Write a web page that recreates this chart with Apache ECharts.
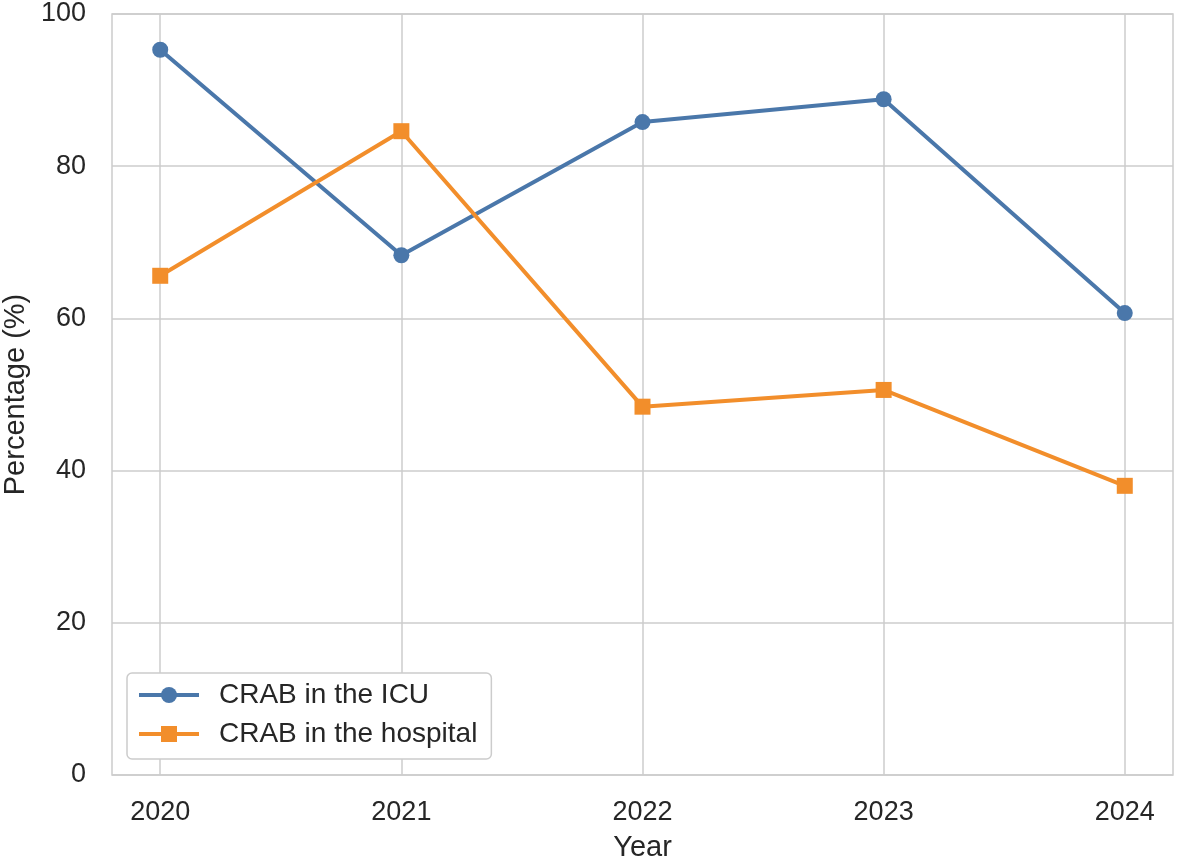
<!DOCTYPE html>
<html><head><meta charset="utf-8">
<script src="https://cdn.jsdelivr.net/npm/echarts@6/dist/echarts.min.js"></script>
<style>html,body{margin:0;padding:0;background:#fff}#c{width:1181px;height:860px}</style>
</head><body><div id="c"></div>
<script>
const years = [2020, 2021, 2022, 2023, 2024];
const icu = [95.3, 68.3, 85.8, 88.8, 60.7];
const hospital = [65.6, 84.6, 48.4, 50.6, 38.0];
const yTicks = [0, 20, 40, 60, 80, 100];

const chart = echarts.init(document.getElementById('c'));
const font = 'Arial, "Liberation Sans", sans-serif';
chart.setOption({
  animation: false,
  grid: {left: 112, right: 8, top: 14, bottom: 85, show: true, borderColor: '#cccccc', borderWidth: 1.5,
         containLabel: false, outerBoundsMode: 'none'},
  xAxis: {
    type: 'value', min: 2019.8, max: 2024.2,
    name: 'Year', nameLocation: 'middle', nameGap: 58,
    nameTextStyle: {fontSize: 29, color: '#262626', fontFamily: font},
    axisLine: {show: false},
    axisTick: {show: false, customValues: years},
    axisLabel: {customValues: years, fontSize: 27, color: '#262626', margin: 24, fontFamily: font, formatter: v => String(v)},
    splitLine: {show: true, lineStyle: {color: '#cccccc', width: 1.5}}
  },
  yAxis: {
    type: 'value', min: 0, max: 100, interval: 20,
    name: 'Percentage (%)', nameLocation: 'middle', nameGap: 80,
    nameTextStyle: {fontSize: 29, color: '#262626', fontFamily: font},
    axisLine: {show: false}, axisTick: {show: false},
    axisLabel: {fontSize: 27, color: '#262626', margin: 26, fontFamily: font, customValues: yTicks},
    splitLine: {show: true, lineStyle: {color: '#cccccc', width: 1.5}}
  },
  legend: {
    left: 127, top: 673, orient: 'vertical',
    padding: [8, 14, 11, 10], itemGap: 11, itemWidth: 60, itemHeight: 20,
    backgroundColor: '#ffffff', borderColor: '#cccccc', borderWidth: 1.5, borderRadius: 5,
    lineStyle: {width: 4},
    textStyle: {fontSize: 28, color: '#262626', fontFamily: font, padding: [0, 0, 0, 15]},
    data: ['CRAB in the ICU', 'CRAB in the hospital']
  },
  series: [
    {name: 'CRAB in the ICU', type: 'line', data: years.map((y, i) => [y, icu[i]]),
     symbol: 'circle', symbolSize: 16, color: '#4a77aa', lineStyle: {width: 4, color: '#4a77aa'}, itemStyle: {color: '#4a77aa'}},
    {name: 'CRAB in the hospital', type: 'line', data: years.map((y, i) => [y, hospital[i]]),
     symbol: 'rect', symbolSize: 16, color: '#f28e2b', lineStyle: {width: 4, color: '#f28e2b'}, itemStyle: {color: '#f28e2b'}}
  ]
});
</script></body></html>
